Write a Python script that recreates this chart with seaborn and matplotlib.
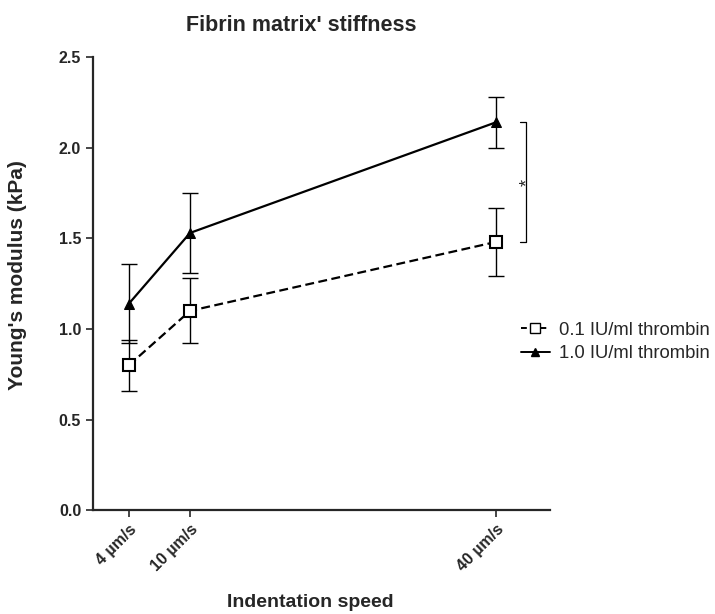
import numpy as np
import pandas as pd
import seaborn as sns
import matplotlib.pyplot as plt
from matplotlib.lines import Line2D

speeds = [4, 10, 40]
tick_labels = ["4 µm/s", "10 µm/s", "40 µm/s"]
low_mean = [0.80, 1.10, 1.48]
low_err = [0.14, 0.18, 0.19]
high_mean = [1.14, 1.53, 2.14]
high_err = [0.22, 0.22, 0.14]
groups = ["0.1 IU/ml thrombin", "1.0 IU/ml thrombin"]

df = pd.DataFrame({
    "speed": speeds * 2,
    "modulus": low_mean + high_mean,
    "err": low_err + high_err,
    "group": [groups[0]] * 3 + [groups[1]] * 3,
})

sns.set_style("ticks")
plt.rcParams["font.family"] = ["Liberation Sans", "DejaVu Sans"]

fig = plt.figure(figsize=(7.15, 6.14), dpi=100)
ax = fig.add_axes([0.130, 0.169, 0.639, 0.738])

# error bars first, so markers sit on top
for g in groups:
    sub = df[df.group == g]
    ax.errorbar(sub.speed, sub.modulus, yerr=sub.err, fmt="none",
                ecolor="black", elinewidth=1, capsize=5.5, capthick=1, zorder=2)

sns.lineplot(
    data=df, x="speed", y="modulus", style="group",
    markers={groups[0]: "s", groups[1]: "^"},
    dashes={groups[0]: (4, 2), groups[1]: ""},
    color="black", linewidth=1.6, markersize=9, ax=ax, legend=False, zorder=3,
)
# open square for the low thrombin series
for ln in ax.get_lines():
    if ln.get_marker() == "s":
        ln.set_markerfacecolor("white")
        ln.set_markeredgecolor("black")
        ln.set_markeredgewidth(1.5)
    elif ln.get_marker() == "^":
        ln.set_markerfacecolor("black")
        ln.set_markeredgecolor("black")
        ln.set_markersize(6.5)

# significance bracket
bx = 43.0
y1, y2 = high_mean[2], low_mean[2]
ax.plot([bx - 0.6, bx, bx, bx - 0.6], [y1, y1, y2, y2], color="black", lw=0.9, clip_on=False)
ax.text(bx + 0.1, (y1 + y2) / 2, "*", rotation=90, ha="center", va="center", fontsize=13)

ax.set_xlim(0.47, 45.3)
ax.set_ylim(0, 2.5)
yt = np.arange(0, 2.51, 0.5)
ax.set_yticks(yt)
ax.set_yticklabels([f"{v:.1f}" for v in yt], fontweight="bold", fontsize=11.5)
ax.set_xticks(speeds)
ax.set_xticklabels(tick_labels, rotation=45, ha="right", rotation_mode="anchor",
                   fontweight="bold", fontsize=11.5)
ax.tick_params(axis="both", direction="out", length=5, width=1.2)
for s in ["left", "bottom"]:
    ax.spines[s].set_linewidth(1.6)
sns.despine(ax=ax)

ax.set_xlabel("Indentation speed", fontweight="bold", fontsize=14)
ax.xaxis.set_label_coords(0.475, -0.185)
ax.set_ylabel("Young's modulus (kPa)", fontweight="bold", fontsize=15)
ax.yaxis.set_label_coords(-0.145, 0.52)
ax.set_title("Fibrin matrix' stiffness", fontweight="bold", fontsize=15.5, x=0.455, pad=19)

handles = [
    Line2D([], [], color="black", ls=(0, (3, 2)), lw=1.4, marker="s",
           markerfacecolor="white", markeredgecolor="black", markersize=7),
    Line2D([], [], color="black", ls="-", lw=1.4, marker="^",
           markerfacecolor="black", markersize=6),
]
fig.legend(handles, groups, loc="center left", bbox_to_anchor=(0.705, 0.443),
           frameon=False, fontsize=13.3, handlelength=1.6, handletextpad=0.5,
           labelspacing=0.35)

fig.savefig("out.png", dpi=100)
